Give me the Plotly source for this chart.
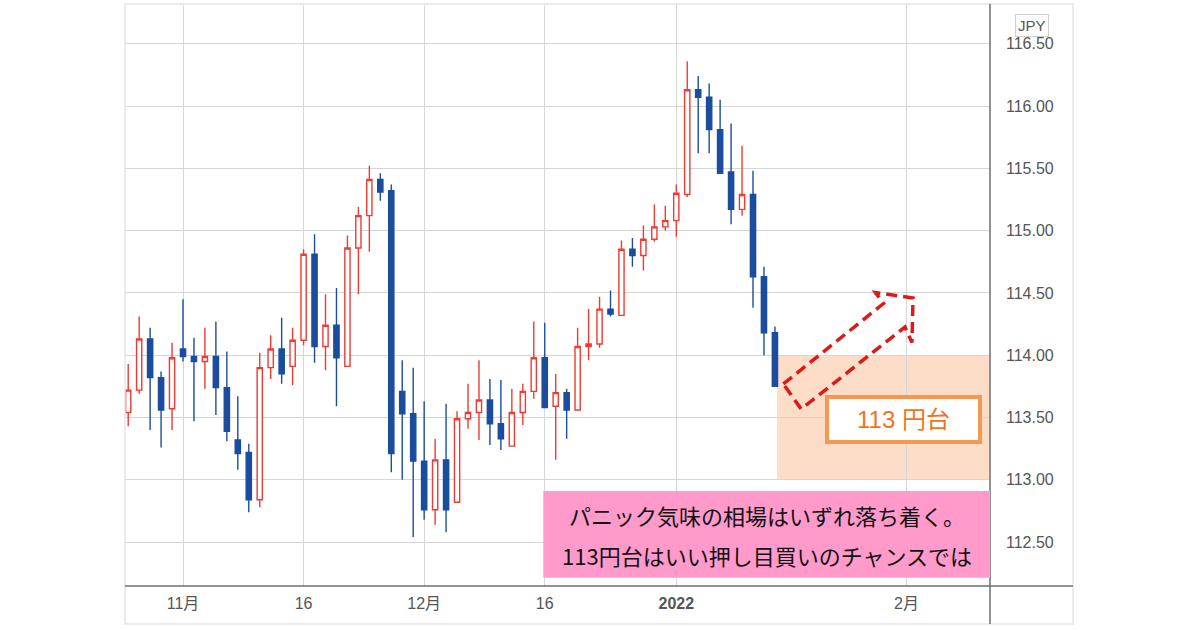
import plotly.graph_objects as go

# USD/JPY daily candles (trading days only, weekends skipped on the axis)
dates = [
    "2021-10-25", "2021-10-26", "2021-10-27", "2021-10-28", "2021-10-29",
    "2021-11-01", "2021-11-02", "2021-11-03", "2021-11-04", "2021-11-05",
    "2021-11-08", "2021-11-09", "2021-11-10", "2021-11-11", "2021-11-12",
    "2021-11-15", "2021-11-16", "2021-11-17", "2021-11-18", "2021-11-19",
    "2021-11-22", "2021-11-23", "2021-11-24", "2021-11-25", "2021-11-26",
    "2021-11-29", "2021-11-30", "2021-12-01", "2021-12-02", "2021-12-03",
    "2021-12-06", "2021-12-07", "2021-12-08", "2021-12-09", "2021-12-10",
    "2021-12-13", "2021-12-14", "2021-12-15", "2021-12-16", "2021-12-17",
    "2021-12-20", "2021-12-21", "2021-12-22", "2021-12-23", "2021-12-24",
    "2021-12-27", "2021-12-28", "2021-12-29", "2021-12-30", "2021-12-31",
    "2022-01-03", "2022-01-04", "2022-01-05", "2022-01-06", "2022-01-07",
    "2022-01-10", "2022-01-11", "2022-01-12", "2022-01-13", "2022-01-14",
]
opens = [
    113.54, 113.72, 114.13, 113.82, 113.57,
    114.05, 113.99, 113.95, 113.99, 113.74,
    113.32, 113.22, 112.84, 113.90, 114.05,
    113.91, 114.12, 114.81, 114.07, 114.24,
    113.91, 114.86, 115.12, 115.41, 115.32,
    113.71, 113.53, 113.15, 112.76, 113.16,
    112.82, 113.49, 113.54, 113.64, 113.45,
    113.27, 113.54, 113.71, 113.98, 113.59,
    113.70, 113.56, 114.07, 114.09, 114.37,
    114.32, 114.85, 114.80, 114.93, 115.03,
    115.08, 115.29, 116.13, 116.07, 115.81,
    115.47, 115.17, 115.29, 114.63, 114.18,
]
highs = [
    113.93, 114.31, 114.22, 113.87, 114.10,
    114.45, 114.14, 114.22, 114.27, 114.03,
    113.67, 113.29, 114.02, 114.16, 114.30,
    114.22, 114.85, 114.97, 114.49, 114.54,
    114.96, 115.19, 115.52, 115.46, 115.37,
    113.96, 113.90, 113.63, 113.33, 113.61,
    113.55, 113.77, 113.96, 113.81, 113.80,
    113.73, 113.77, 114.27, 114.26, 113.85,
    113.73, 114.22, 114.37, 114.47, 114.52,
    114.92, 114.94, 115.04, 115.21, 115.20,
    115.37, 116.36, 116.24, 116.18, 116.05,
    115.86, 115.68, 115.48, 114.71, 114.23,
]
lows = [
    113.43, 113.69, 113.40, 113.26, 113.40,
    113.95, 113.47, 113.73, 113.52, 113.31,
    113.08, 112.74, 112.78, 113.81, 113.77,
    113.76, 114.08, 113.94, 113.88, 113.59,
    113.91, 114.49, 114.83, 115.24, 113.06,
    113.00, 112.54, 112.68, 112.64, 112.58,
    112.82, 113.41, 113.32, 113.28, 113.24,
    113.27, 113.44, 113.65, 113.58, 113.16,
    113.33, 113.56, 113.96, 114.06, 114.31,
    114.32, 114.71, 114.68, 114.91, 115.00,
    114.95, 115.27, 115.62, 115.62, 115.46,
    115.05, 115.12, 114.38, 114.00, 113.75,
]
closes = [
    113.72, 114.13, 113.82, 113.56, 113.98,
    113.99, 113.95, 113.99, 113.74, 113.39,
    113.21, 112.84, 113.90, 114.05, 113.85,
    114.12, 114.81, 114.07, 114.24, 113.98,
    114.86, 115.12, 115.41, 115.31, 113.21,
    113.53, 113.15, 112.76, 113.16, 112.76,
    113.49, 113.54, 113.64, 113.45, 113.33,
    113.54, 113.71, 113.98, 113.58, 113.70,
    113.56, 114.07, 114.09, 114.37, 114.33,
    114.85, 114.80, 114.93, 115.03, 115.08,
    115.30, 116.13, 116.07, 115.81, 115.46,
    115.17, 115.29, 114.63, 114.18, 113.75,
]

# axis ticks
tick_dates = ["2021-11-01", "2021-11-16", "2021-12-01", "2021-12-16", "2022-01-03", "2022-02-01"]
tick_labels = ["11月", "16", "12月", "16", "<b>2022</b>", "2月"]
price_ticks = [112.5, 113.0, 113.5, 114.0, 114.5, 115.0, 115.5, 116.0, 116.5]

# target zone
zone_low, zone_high = 113.0, 114.0

# candles centred at noon so the weekend breaks never cut a body
x = [d + " 12:00" for d in dates]

fig = go.Figure()
fig.add_trace(go.Candlestick(
    x=x, open=opens, high=highs, low=lows, close=closes,
    increasing=dict(line=dict(color="#EE3B33", width=1.4), fillcolor="white"),
    decreasing=dict(line=dict(color="#1B4D9E", width=1.4), fillcolor="#1B4D9E"),
    hoverinfo="skip",
))

font = "Liberation Sans, Noto Sans CJK JP, sans-serif"
fig.update_layout(
    width=1200, height=630,
    margin=dict(l=125, r=210, t=4, b=44),
    plot_bgcolor="white", paper_bgcolor="white",
    showlegend=False,
    boxgap=0.32,
    font=dict(family=font, color="#555555"),
)
fig.update_xaxes(
    type="date",
    range=["2021-10-25 05:00", "2022-02-11 02:53"],
    rangebreaks=[dict(bounds=["sat", "mon"])],
    rangeslider=dict(visible=False),
    tickvals=[d + " 12:00" for d in tick_dates],
    ticktext=tick_labels,
    tickfont=dict(size=16, family="Liberation Sans Narrow, " + font, color="#555555"),
    ticks="", ticklabelstandoff=6,
    showgrid=True, gridcolor="#D6D6D6", gridwidth=1.2,
    showline=False, zeroline=False,
)
fig.update_yaxes(
    side="right",
    range=[112.1477, 116.8186],
    tickvals=price_ticks,
    tickformat=".2f",
    tickfont=dict(size=16, color="#555555"),
    ticks="", ticklabelstandoff=15,
    showgrid=True, gridcolor="#D6D6D6", gridwidth=1.2,
    showline=False, zeroline=False,
)

# outer frame and axis lines
fig.add_shape(type="rect", xref="paper", yref="paper", x0=0, x1=1.096, y0=-0.0653, y1=1,
              line=dict(color="#E4E4EA", width=1.5), layer="above")
fig.add_shape(type="line", xref="paper", yref="paper", x0=1, x1=1, y0=-0.0653, y1=1,
              line=dict(color="#6E6E6E", width=1.5), layer="above")
fig.add_shape(type="line", xref="paper", yref="paper", x0=0, x1=1.096, y0=0, y1=0,
              line=dict(color="#6E6E6E", width=1.5), layer="above")

# 113-yen zone
fig.add_shape(type="rect", xref="paper", yref="y", x0=0.7538, x1=1, y0=zone_low, y1=zone_high,
              fillcolor="rgba(250,160,100,0.36)", line=dict(width=0), layer="below")

# dashed hollow arrow pointing up-right
arrow = [(0.7611, 0.3471), (0.8769, 0.4854), (0.8676, 0.5043), (0.9110, 0.4948),
         (0.9098, 0.4184), (0.9017, 0.4450), (0.7817, 0.3041)]
path = "M " + " L ".join(f"{a},{b}" for a, b in arrow) + " Z"
fig.add_shape(type="path", xref="paper", yref="paper", path=path,
              line=dict(color="#DA1C18", width=3.5, dash="11px,6px"), layer="above")

# "113 円台" label box
fig.add_shape(type="rect", xref="paper", yref="paper", x0=0.8116, x1=0.9884, y0=0.2474, y1=0.3247,
              fillcolor="white", line=dict(color="#F59850", width=4), layer="above")
fig.add_annotation(xref="paper", yref="paper", x=0.9000, y=0.2860, text="113 円台", showarrow=False,
                   xanchor="center", yanchor="middle",
                   font=dict(family="Liberation Sans, Noto Sans CJK JP", size=24, color="#EE7420"))

# pink comment box
fig.add_shape(type="rect", xref="paper", yref="paper", x0=0.4836, x1=1, y0=0.0143, y1=0.1632,
              fillcolor="#FF9ACB", line=dict(width=0), layer="above")
for line_text, yy in [("パニック気味の相場はいずれ落ち着く。", 0.1220),
                      ("113円台はいい押し目買いのチャンスでは", 0.0533)]:
    fig.add_annotation(xref="paper", yref="paper", x=0.7418, y=yy, text=line_text, showarrow=False,
                       xanchor="center", yanchor="middle",
                       font=dict(family="Noto Sans CJK JP", size=22, color="#111111"))

# currency badge
fig.add_annotation(xref="paper", yref="paper", x=1.0485, y=0.9625, text="JPY", showarrow=False,
                   xanchor="center", yanchor="middle",
                   font=dict(size=15, color="#555555"), bgcolor="white",
                   bordercolor="#CFCFCF", borderwidth=1, borderpad=2)

fig.write_html("out.html", config={"displayModeBar": False})

# keep the page flush with the window edge
with open("out.html", encoding="utf-8") as f:
    html = f.read()
html = html.replace("<head>", "<head><style>body{margin:0;}</style>", 1)
with open("out.html", "w", encoding="utf-8") as f:
    f.write(html)
